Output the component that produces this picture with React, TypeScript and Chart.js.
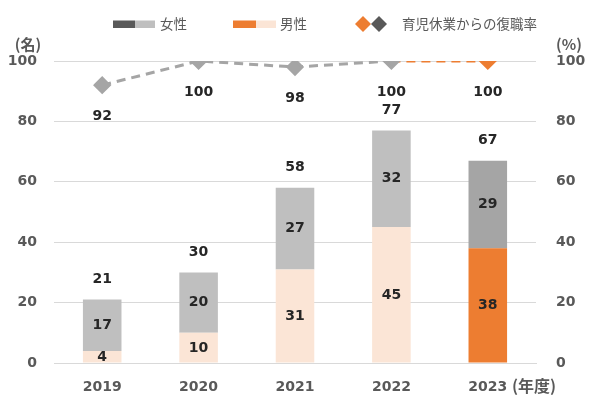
import React, { useEffect, useRef } from "react";
import { Chart, registerables } from "chart.js";

Chart.register(...registerables);

const categories = ["2019", "2020", "2021", "2022", "2023"];
const maleValues = [4, 10, 31, 45, 38];
const femaleValues = [17, 20, 27, 32, 29];
const totalValues = [21, 30, 58, 77, 67];
const returnRate = [92, 100, 98, 100, 100];
const axisTicks = [0, 20, 40, 60, 80, 100];

const GRAY_L = "#BFBFBF";
const GRAY_D = "#A5A5A5";
const PEACH = "#FBE5D6";
const ORANGE = "#ED7D31";
const TXT = "#595959";
const LBL = "#262626";
const NUMFONT = "bold 14px 'DejaVu Sans', Verdana, sans-serif";
const JPFONT = "13.5px 'Noto Sans CJK JP', sans-serif";

const overlay = {
  id: "overlay",
  afterDatasetsDraw(chart: any) {
    const ctx = chart.ctx;
    const x = chart.scales.x;
    const y = chart.scales.y;
    const y1 = chart.scales.y1;
    ctx.save();
    ctx.textAlign = "center";
    ctx.textBaseline = "middle";
    ctx.font = NUMFONT;
    ctx.fillStyle = LBL;
    categories.forEach((_, i) => {
      const cx = x.getPixelForValue(i);
      const m = maleValues[i];
      const f = femaleValues[i];
      ctx.fillText(String(m), cx, (y.getPixelForValue(0) + y.getPixelForValue(m)) / 2);
      ctx.fillText(String(f), cx, (y.getPixelForValue(m) + y.getPixelForValue(m + f)) / 2);
      ctx.fillText(String(totalValues[i]), cx, y.getPixelForValue(totalValues[i]) - 20);
      ctx.fillText(String(returnRate[i]), cx, y1.getPixelForValue(returnRate[i]) + 31);
    });
    // axis unit titles
    ctx.fillStyle = TXT;
    ctx.font = "bold 15px 'Noto Sans CJK JP', sans-serif";
    ctx.fillText("(名)", 28, 44);
    ctx.fillText("(%)", 569, 44);
    // x unit
    ctx.font = "bold 16px 'Noto Sans CJK JP', sans-serif";
    ctx.textAlign = "left";
    ctx.fillText("(年度)", 512, 386);
    // legend
    const ly = 24;
    ctx.fillStyle = "#595959";
    ctx.fillRect(113, ly - 3.5, 22, 7.5);
    ctx.fillStyle = GRAY_L;
    ctx.fillRect(135, ly - 3.5, 20, 7.5);
    ctx.fillStyle = ORANGE;
    ctx.fillRect(233, ly - 3.5, 23, 7.5);
    ctx.fillStyle = PEACH;
    ctx.fillRect(256, ly - 3.5, 20, 7.5);
    const diamond = (cx: number, c: string) => {
      ctx.fillStyle = c;
      ctx.beginPath();
      ctx.moveTo(cx, ly - 8);
      ctx.lineTo(cx + 8, ly);
      ctx.lineTo(cx, ly + 8);
      ctx.lineTo(cx - 8, ly);
      ctx.closePath();
      ctx.fill();
    };
    diamond(363, ORANGE);
    diamond(379, "#595959");
    ctx.fillStyle = TXT;
    ctx.font = JPFONT;
    ctx.textAlign = "left";
    ctx.fillText("女性", 160, ly);
    ctx.fillText("男性", 280, ly);
    ctx.fillText("育児休業からの復職率", 402, ly);
    ctx.restore();
  },
};

export default function App() {
  const ref = useRef<HTMLCanvasElement>(null);
  useEffect(() => {
    if (!ref.current) return;
    const chart = new Chart(ref.current, {
      type: "bar",
      data: {
        labels: categories,
        datasets: [
          {
            type: "line",
            label: "育児休業からの復職率",
            data: returnRate,
            yAxisID: "y1",
            borderColor: GRAY_D,
            borderWidth: 3,
            borderDash: [9, 6],
            pointStyle: "rectRot",
            pointRadius: 7,
            pointHoverRadius: 7,
            pointBackgroundColor: [GRAY_D, GRAY_D, GRAY_D, GRAY_D, ORANGE],
            pointBorderColor: [GRAY_D, GRAY_D, GRAY_D, GRAY_D, ORANGE],
            segment: {
              borderColor: (c: any) => (c.p1DataIndex === 4 ? ORANGE : GRAY_D),
            },
            order: 0,
          } as any,
          {
            label: "男性",
            data: maleValues,
            backgroundColor: [PEACH, PEACH, PEACH, PEACH, ORANGE],
            stack: "s",
            barPercentage: 0.4,
            categoryPercentage: 1,
            order: 1,
          },
          {
            label: "女性",
            data: femaleValues,
            backgroundColor: [GRAY_L, GRAY_L, GRAY_L, GRAY_L, GRAY_D],
            stack: "s",
            barPercentage: 0.4,
            categoryPercentage: 1,
            order: 1,
          },
        ],
      },
      options: {
        animation: false,
        responsive: false,
        layout: { padding: { top: 61, bottom: 0, left: 0, right: 0 } },
        plugins: { legend: { display: false }, tooltip: { enabled: false } },
        scales: {
          x: {
            stacked: true,
            grid: { display: false },
            border: { display: true, color: "#D9D9D9", width: 1 },
            ticks: { color: TXT, font: { family: "'DejaVu Sans', Verdana, sans-serif", size: 14, weight: "bold" }, padding: 8 },
            afterFit: (s: any) => { s.height = 40; },
          },
          y: {
            stacked: true,
            min: 0,
            max: 100,
            afterBuildTicks: (s: any) => { s.ticks = axisTicks.map((v) => ({ value: v })); },
            grid: { color: "#D9D9D9", drawTicks: false },
            border: { display: false },
            ticks: { color: TXT, font: { family: "'DejaVu Sans', Verdana, sans-serif", size: 14, weight: "bold" }, padding: 17 },
            afterFit: (s: any) => { s.width = 54; },
          },
          y1: {
            position: "right",
            min: 0,
            max: 100,
            afterBuildTicks: (s: any) => { s.ticks = axisTicks.map((v) => ({ value: v })); },
            grid: { display: false, drawTicks: false },
            border: { display: false },
            ticks: { color: TXT, font: { family: "'DejaVu Sans', Verdana, sans-serif", size: 14, weight: "bold" }, padding: 20 },
            afterFit: (s: any) => { s.width = 64; },
          },
        },
      } as any,
      plugins: [overlay],
    });
    return () => chart.destroy();
  }, []);
  return (
    <div style={{ position: "fixed", left: 0, top: 0, width: 600, height: 403, background: "#fff" }}>
      <canvas ref={ref} width={600} height={403} style={{ display: "block" }} />
    </div>
  );
}
